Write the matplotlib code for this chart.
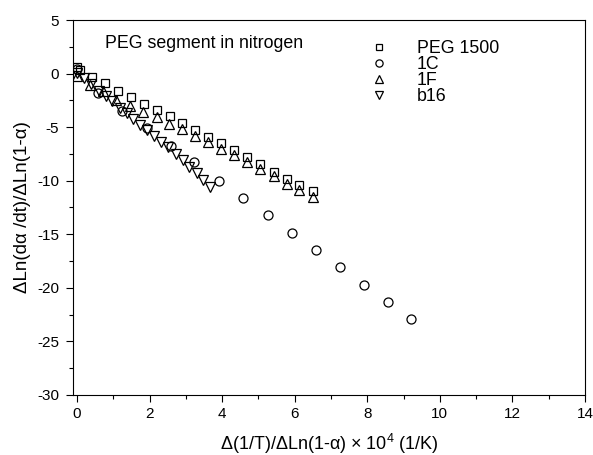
import numpy as np
import matplotlib
matplotlib.use('Agg')
import matplotlib.pyplot as plt
from matplotlib.ticker import MultipleLocator

# Font close to Arial
matplotlib.rcParams['font.family'] = ['Liberation Sans', 'DejaVu Sans']
matplotlib.rcParams['axes.unicode_minus'] = False
matplotlib.rcParams['mathtext.fontset'] = 'custom'
matplotlib.rcParams['mathtext.rm'] = 'Liberation Sans'

# PEG 1500 (squares)
peg_x = [0.0, 0.08, 0.41, 0.77, 1.13, 1.49, 1.85, 2.2, 2.56, 2.9, 3.25, 3.6,
         3.97, 4.33, 4.68, 5.04, 5.43, 5.78, 6.12, 6.5]
peg_y = [0.6, 0.3, -0.3, -0.9, -1.6, -2.2, -2.8, -3.4, -4.0, -4.6, -5.3, -5.9,
         -6.5, -7.1, -7.8, -8.45, -9.2, -9.85, -10.4, -11.0]

# 1C (circles)
c1_x = [0.0, 0.58, 1.25, 1.92, 2.58, 3.23, 3.91, 4.57, 5.26, 5.92, 6.58, 7.25,
        7.91, 8.57, 9.2]
c1_y = [0.4, -1.8, -3.5, -5.1, -6.8, -8.3, -10.0, -11.6, -13.2, -14.9, -16.5,
        -18.1, -19.7, -21.3, -22.9]

# 1F (up triangles)
f1_x = [0.0, 0.36, 0.72, 1.08, 1.45, 1.82, 2.2, 2.55, 2.9, 3.25, 3.6, 3.97,
        4.33, 4.68, 5.04, 5.43, 5.78, 6.12, 6.5]
f1_y = [-0.2, -1.1, -1.6, -2.5, -3.0, -3.6, -4.1, -4.7, -5.2, -5.8, -6.4, -7.0,
        -7.6, -8.3, -8.9, -9.6, -10.3, -10.9, -11.5]

# b16 (down triangles)
b16_x = [0.0, 0.2, 0.4, 0.6, 0.8, 0.98, 1.18, 1.37, 1.55, 1.74, 1.93, 2.12,
         2.32, 2.52, 2.72, 2.92, 3.1, 3.3, 3.48, 3.68]
b16_y = [0.1, -0.4, -1.0, -1.6, -2.1, -2.6, -3.2, -3.7, -4.2, -4.8, -5.3, -5.8,
         -6.4, -6.9, -7.5, -8.1, -8.7, -9.3, -9.9, -10.6]

fig = plt.figure(figsize=(5.93, 4.55), dpi=100)
ax = fig.add_axes([0.123, 0.132, 0.8635, 0.824])

mk = dict(linestyle='none', markerfacecolor='none', markeredgecolor='black',
          markeredgewidth=0.9)
ax.plot(peg_x, peg_y, marker='s', markersize=6, label='PEG 1500', **mk)
ax.plot(c1_x, c1_y, marker='o', markersize=6.5, label='1C', **mk)
ax.plot(f1_x, f1_y, marker='^', markersize=7, label='1F', **mk)
ax.plot(b16_x, b16_y, marker='v', markersize=7, label='b16', **mk)

ax.set_xlim(-0.11, 14)
ax.set_ylim(-30, 5)
ax.xaxis.set_major_locator(MultipleLocator(2))
ax.xaxis.set_minor_locator(MultipleLocator(1))
ax.yaxis.set_major_locator(MultipleLocator(5))
ax.yaxis.set_minor_locator(MultipleLocator(2.5))
ax.tick_params(which='major', direction='out', length=5, width=0.8, labelsize=11)
ax.tick_params(axis='y', which='major', pad=5)
ax.tick_params(which='minor', direction='out', length=3, width=0.8)
for s in ax.spines.values():
    s.set_linewidth(0.8)

ax.set_xlabel(r'Δ(1/T)/ΔLn(1-α) × 10$^4$ (1/K)', fontsize=13, labelpad=8)
ax.set_ylabel('ΔLn(dα /dt)/ΔLn(1-α)', fontsize=13.5, labelpad=4)

ax.text(0.77, 2.85, 'PEG segment in nitrogen', fontsize=12.8, va='center', ha='left')

ax.legend(loc='upper left', bbox_to_anchor=(0.55, 0.99), frameon=False,
          fontsize=12.8, handletextpad=1.6, labelspacing=-0.05, handlelength=1.0,
          markerscale=0.8)

fig.savefig('out.png', dpi=100)
